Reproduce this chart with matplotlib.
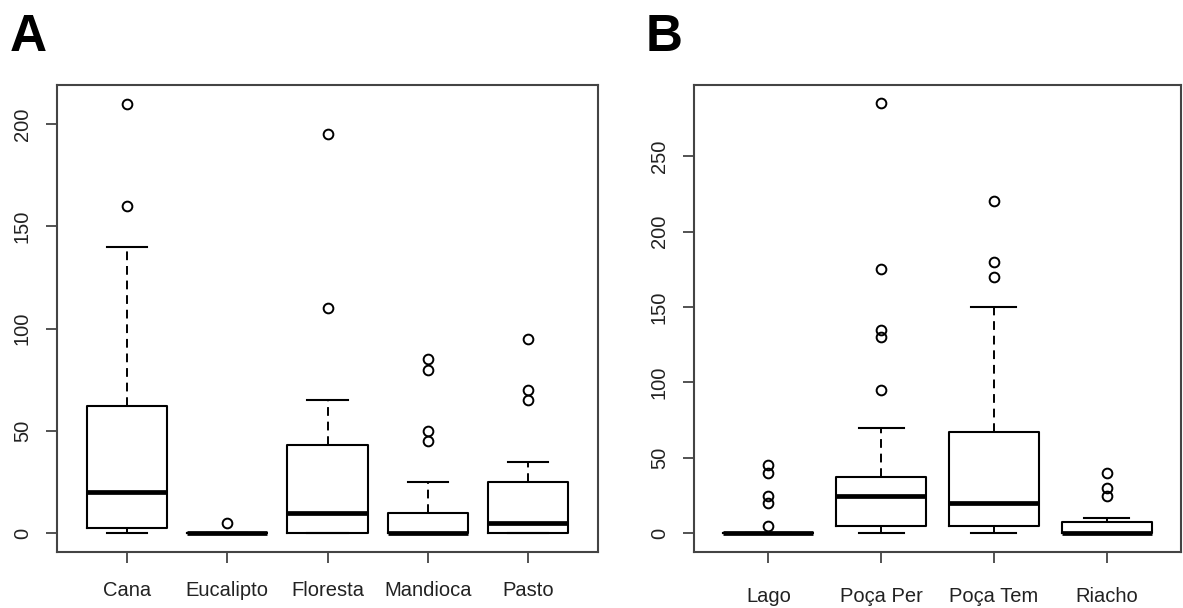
import matplotlib
matplotlib.use("Agg")
import matplotlib.pyplot as plt

plt.rcParams['font.family'] = ['Liberation Sans', 'DejaVu Sans']

# ---- Panel A data (land use) ----
cats_a = ["Cana", "Eucalipto", "Floresta", "Mandioca", "Pasto"]
q1_a = [2.4, 0, 0, 0, 0]
med_a = [20, 0, 10, 0, 5]
q3_a = [62, 0, 43, 10, 25]
whislo_a = [0, 0, 0, 0, 0]
whishi_a = [140, 0, 65, 25, 35]
fliers_a = [[160, 210], [5], [110, 195], [45, 50, 80, 85], [65, 70, 95]]
yticks_a = [0, 50, 100, 150, 200]

# ---- Panel B data (water body) ----
cats_b = ["Lago", "Poça Per", "Poça Tem", "Riacho"]
q1_b = [0, 5, 5, 0]
med_b = [0, 25, 20, 0]
q3_b = [0, 37.5, 67, 7.5]
whislo_b = [0, 0, 0, 0]
whishi_b = [0, 70, 150, 10]
fliers_b = [[5, 20, 25, 40, 45], [95, 130, 135, 175, 285], [170, 180, 220], [25, 30, 40]]
yticks_b = [0, 50, 100, 150, 200, 250]

W, H = 1183, 608
fig = plt.figure(figsize=(W / 100, H / 100), dpi=100)


def px_axes(l, r, t, b):
    return fig.add_axes([l / W, 1 - b / H, (r - l) / W, (b - t) / H])


def draw(ax, cats, q1, med, q3, wlo, whi, fl, yticks, ylim, xlab_pad):
    stats = []
    for i, c in enumerate(cats):
        stats.append(dict(label=c, q1=q1[i], med=med[i], q3=q3[i],
                          whislo=wlo[i], whishi=whi[i], fliers=fl[i]))
    n = len(cats)
    ax.bxp(stats, positions=list(range(1, n + 1)), widths=0.8,
           capwidths=0.4, showfliers=True, patch_artist=False,
           boxprops=dict(color='black', linewidth=1.5),
           medianprops=dict(color='black', linewidth=3.4, solid_capstyle='butt'),
           whiskerprops=dict(color='black', linewidth=1.4, linestyle=(0, (4.5, 3))),
           capprops=dict(color='black', linewidth=1.5),
           flierprops=dict(marker='o', markerfacecolor='none',
                           markeredgecolor='black', markersize=7,
                           markeredgewidth=1.4, linestyle='none'))
    ext = 0.04 * n
    ax.set_xlim(0.5 - ext, n + 0.5 + ext)
    ax.set_ylim(*ylim)
    ax.set_yticks(yticks)
    ax.set_yticklabels([str(v) for v in yticks], rotation=90, va='center')
    ax.set_xticks(list(range(1, n + 1)))
    ax.set_xticklabels(cats)
    for s in ax.spines.values():
        s.set_color('#444444')
        s.set_linewidth(1.5)
    ax.tick_params(axis='both', direction='out', length=8, width=1.3,
                   color='#444444', labelsize=14.5, labelcolor='#222222')
    ax.tick_params(axis='y', pad=10)
    ax.tick_params(axis='x', pad=xlab_pad)


axA = px_axes(57, 598, 85, 552)
draw(axA, cats_a, q1_a, med_a, q3_a, whislo_a, whishi_a, fliers_a,
     yticks_a, (-9.2, 219.1), 13)

axB = px_axes(694, 1181, 85, 552)
draw(axB, cats_b, q1_b, med_b, q3_b, whislo_b, whishi_b, fliers_b,
     yticks_b, (-12.4, 297.1), 17)

fig.text(10 / W, 1 - 51 / H, "A", fontsize=37, fontweight='bold',
         ha='left', va='baseline', color='black')
fig.text(646 / W, 1 - 51 / H, "B", fontsize=37, fontweight='bold',
         ha='left', va='baseline', color='black')

fig.savefig("out.png", dpi=100, facecolor='white')
